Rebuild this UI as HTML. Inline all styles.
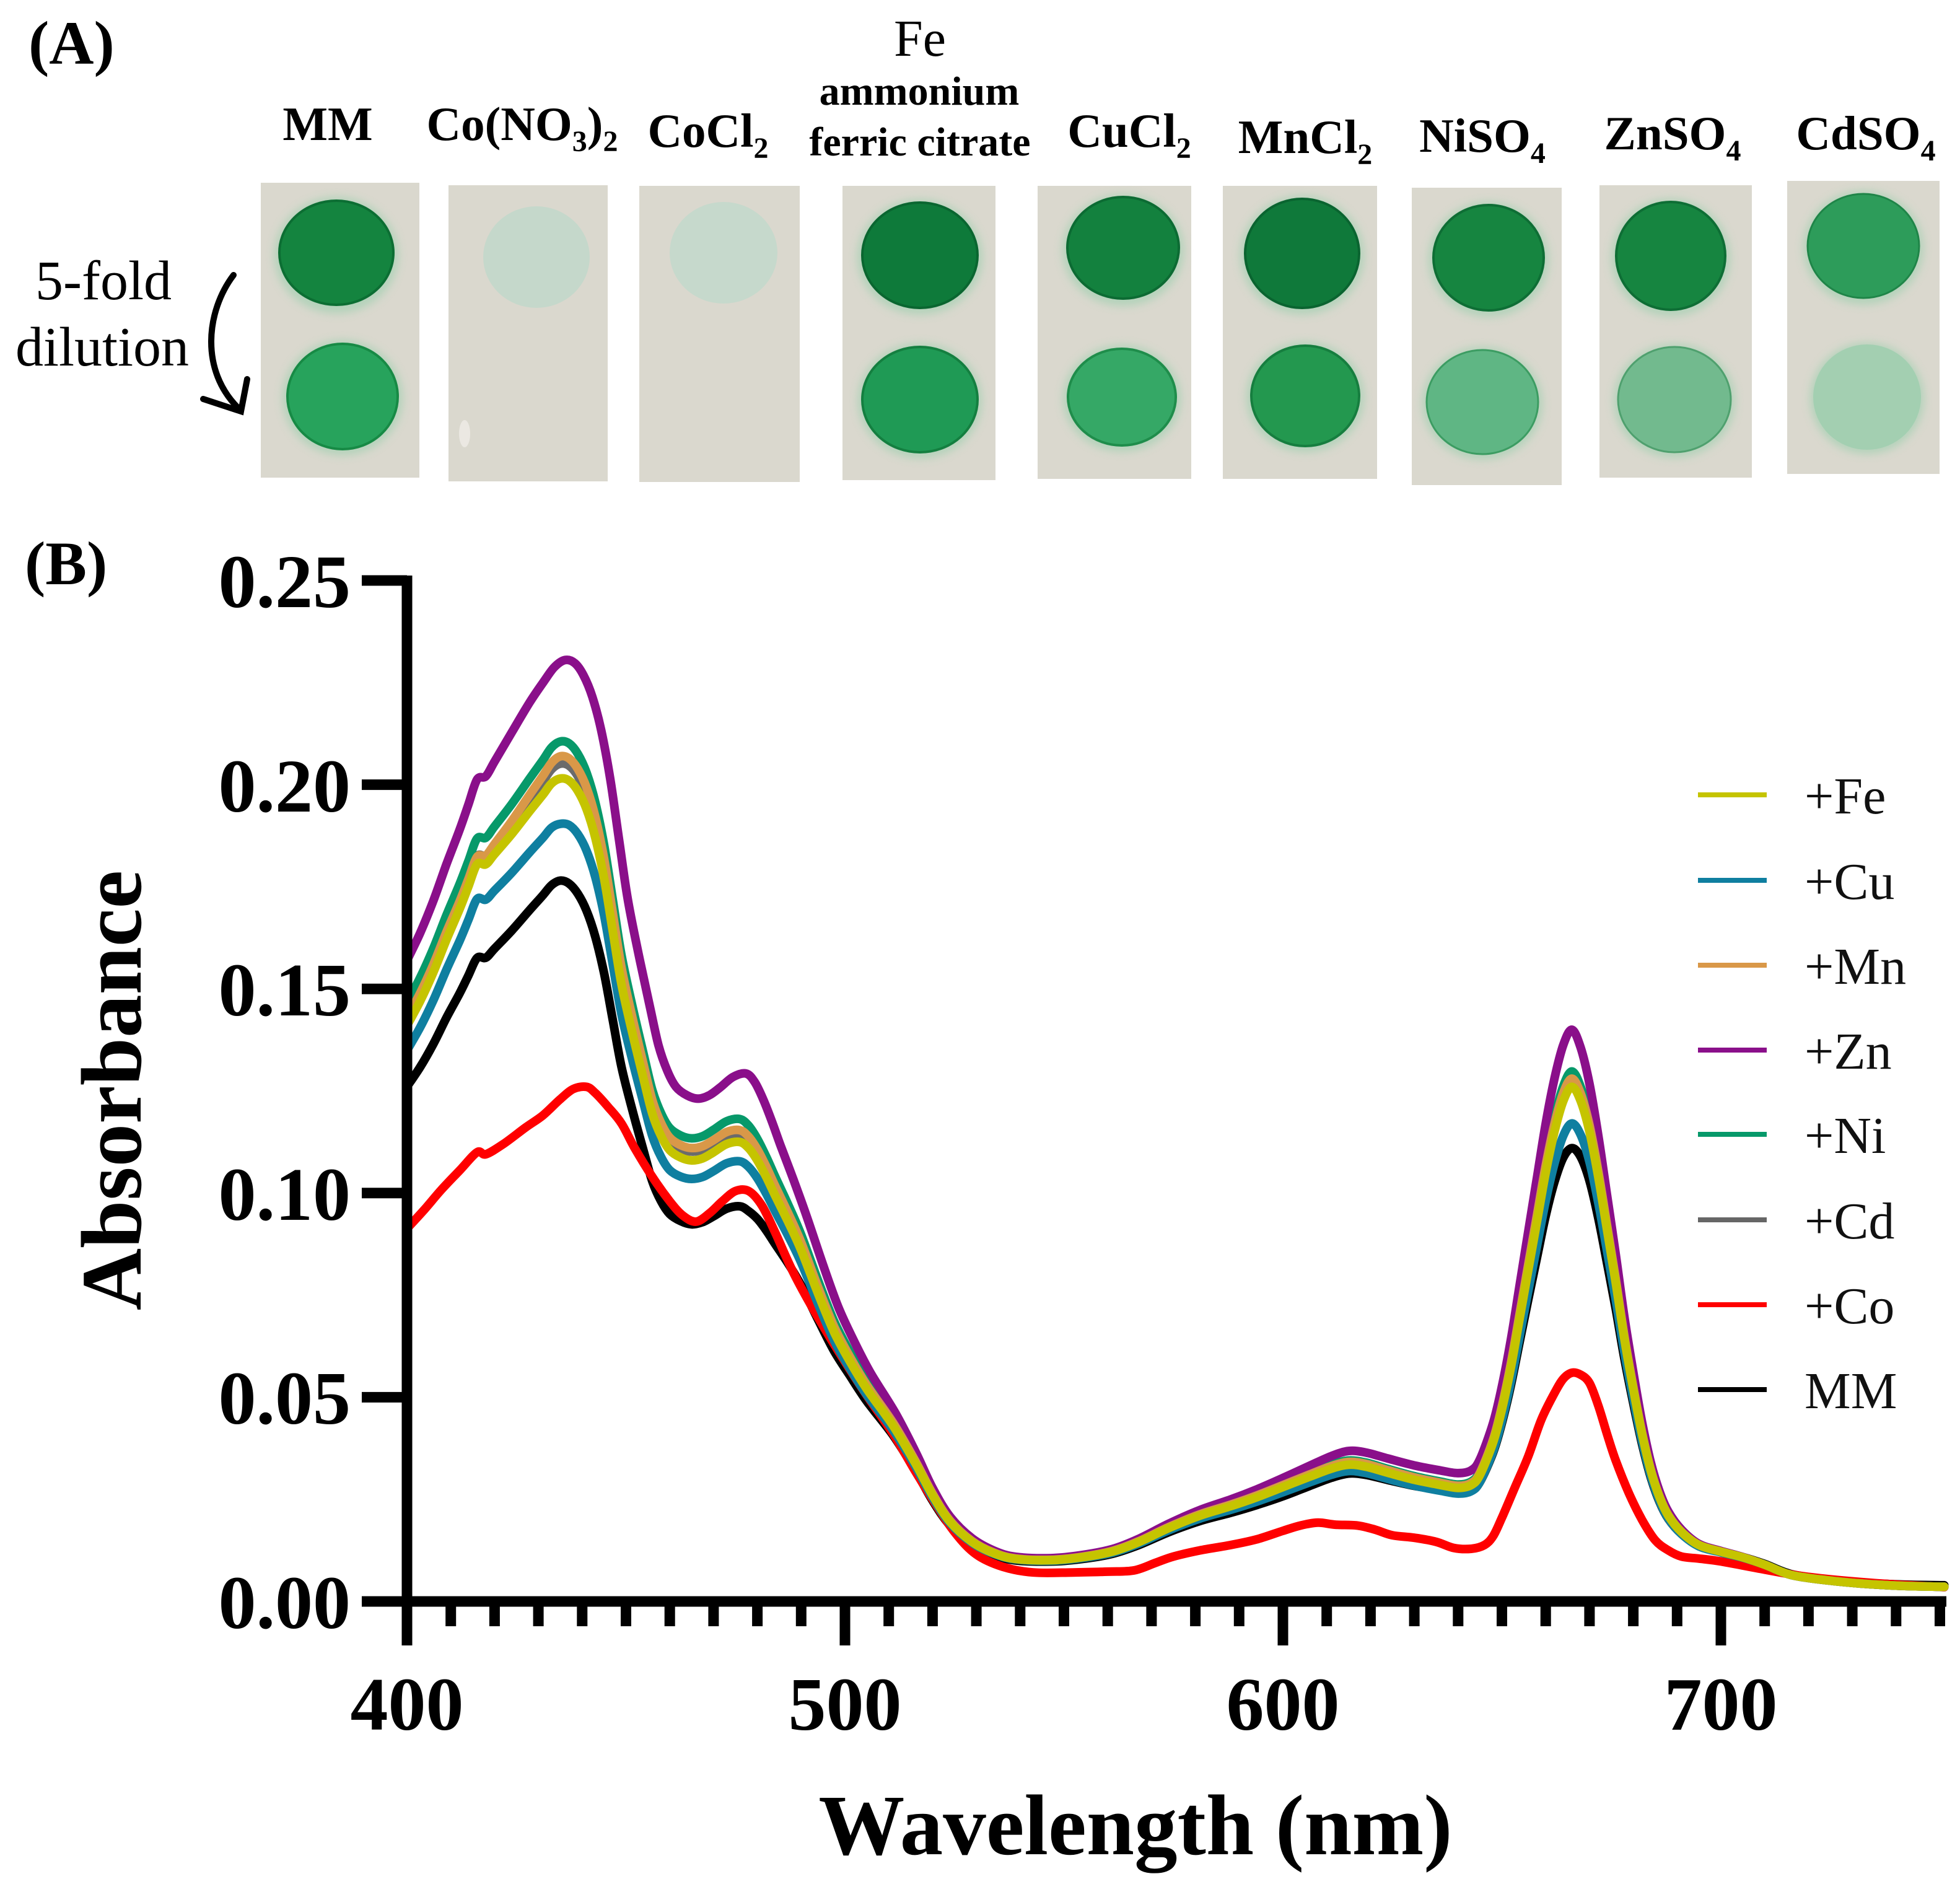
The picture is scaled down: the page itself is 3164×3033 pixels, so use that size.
<!DOCTYPE html>
<html>
<head>
<meta charset="utf-8">
<style>
  html,body{margin:0;padding:0;background:#fff;}
  svg{display:block;}
  text{font-family:"Liberation Serif","DejaVu Serif",serif;}
</style>
</head>
<body>
<svg id="fig" width="3164" height="3033" viewBox="0 0 3164 3033" xmlns="http://www.w3.org/2000/svg">
  <defs>
    <filter id="halo" x="-30%" y="-30%" width="160%" height="160%">
      <feGaussianBlur stdDeviation="7"/>
    </filter>
  </defs>
  <rect x="0" y="0" width="3164" height="3033" fill="#ffffff"/>

  <!-- ===== Panel A ===== -->
  <text x="46" y="103" font-size="100" font-weight="bold">(A)</text>

  <g font-weight="bold" font-size="77" text-anchor="middle" fill="#000">
    <text x="529" y="226">MM</text>
    <text x="843" y="226">Co(NO<tspan font-size="48" dy="18">3</tspan><tspan dy="-18">)</tspan><tspan font-size="48" dy="18">2</tspan></text>
    <text x="1143" y="237">CoCl<tspan font-size="48" dy="18">2</tspan></text>
    <text x="1823" y="237">CuCl<tspan font-size="48" dy="18">2</tspan></text>
    <text x="2107" y="247">MnCl<tspan font-size="48" dy="18">2</tspan></text>
    <text x="2393" y="245">NiSO<tspan font-size="48" dy="18">4</tspan></text>
    <text x="2700" y="241">ZnSO<tspan font-size="48" dy="18">4</tspan></text>
    <text x="3012" y="241">CdSO<tspan font-size="48" dy="18">4</tspan></text>
  </g>
  <text x="1485" y="90" font-size="84" text-anchor="middle">Fe</text>
  <text x="1484" y="169" font-size="66" font-weight="bold" text-anchor="middle">ammonium</text>
  <text x="1485" y="251" font-size="66" font-weight="bold" text-anchor="middle">ferric citrate</text>

  <text x="167" y="483" font-size="90" text-anchor="middle">5-fold</text>
  <text x="165" y="590" font-size="90" text-anchor="middle">dilution</text>
  <path d="M377,444 C333,502 322,598 386,660" fill="none" stroke="#000" stroke-width="10" stroke-linecap="round"/>
  <polyline points="328,644 389,664 399,612" fill="none" stroke="#000" stroke-width="10" stroke-linecap="round" stroke-linejoin="miter"/>

  <g>
    <rect x="421" y="295" width="256" height="476" fill="#dad8ce"/>
    <rect x="724" y="299" width="257" height="478" fill="#dad8ce"/>
    <rect x="1032" y="300" width="259" height="478" fill="#dad8ce"/>
    <rect x="1360" y="300" width="247" height="475" fill="#dad8ce"/>
    <rect x="1675" y="300" width="248" height="473" fill="#dad8ce"/>
    <rect x="1974" y="300" width="249" height="473" fill="#dad8ce"/>
    <rect x="2279" y="303" width="242" height="480" fill="#dad8ce"/>
    <rect x="2582" y="299" width="246" height="472" fill="#dad8ce"/>
    <rect x="2885" y="292" width="246" height="473" fill="#dad8ce"/>
  </g>
  <g filter="url(#halo)" fill="#a9d1b5" opacity="0.8">
    <ellipse cx="543" cy="412" rx="100" ry="94"/>
    <ellipse cx="553" cy="642" rx="97" ry="93"/>
    <ellipse cx="1485" cy="415" rx="101" ry="93"/>
    <ellipse cx="1485" cy="647" rx="100" ry="93"/>
    <ellipse cx="1813" cy="404" rx="98" ry="90"/>
    <ellipse cx="1811" cy="643" rx="95" ry="86"/>
    <ellipse cx="2102" cy="412" rx="100" ry="96"/>
    <ellipse cx="2107" cy="641" rx="95" ry="89"/>
    <ellipse cx="2403" cy="419" rx="97" ry="93"/>
    <ellipse cx="2393" cy="651" rx="97" ry="91"/>
    <ellipse cx="2697" cy="416" rx="96" ry="95"/>
    <ellipse cx="2703" cy="647" rx="98" ry="92"/>
    <ellipse cx="3008" cy="400" rx="97" ry="92"/>
    <ellipse cx="3014" cy="643" rx="92" ry="90"/>
  </g>
  <g>
    <ellipse cx="543" cy="408" rx="92" ry="84" fill="#14843f" stroke="#0c6e33" stroke-width="4"/>
    <ellipse cx="553" cy="640" rx="89" ry="85" fill="#27a35c" stroke="#178a45" stroke-width="4"/>

    <ellipse cx="866" cy="415" rx="86" ry="82" fill="#c5d8cb"/>
    <ellipse cx="750" cy="700" rx="9" ry="22" fill="#ebe8e2"/>

    <ellipse cx="1168" cy="408" rx="87" ry="82" fill="#c6d9cc"/>

    <ellipse cx="1485" cy="412" rx="93" ry="85" fill="#0e7a3a" stroke="#0a6630" stroke-width="4"/>
    <ellipse cx="1485" cy="645" rx="93" ry="85" fill="#1f9a55" stroke="#147f40" stroke-width="4"/>

    <ellipse cx="1813" cy="400" rx="90" ry="82" fill="#13813e" stroke="#0c6b33" stroke-width="4"/>
    <ellipse cx="1811" cy="641" rx="87" ry="78" fill="#35a866" stroke="#1f8d4b" stroke-width="4"/>

    <ellipse cx="2102" cy="409" rx="92" ry="88" fill="#0f793a" stroke="#0a6430" stroke-width="4"/>
    <ellipse cx="2107" cy="639" rx="87" ry="81" fill="#23984f" stroke="#167e3f" stroke-width="4"/>

    <ellipse cx="2403" cy="416" rx="89" ry="85" fill="#168540" stroke="#0e6e35" stroke-width="4"/>
    <ellipse cx="2393" cy="649" rx="90" ry="84" fill="#5fb684" stroke="#3c9c62" stroke-width="3"/>

    <ellipse cx="2697" cy="413" rx="88" ry="87" fill="#168540" stroke="#0e6e35" stroke-width="4"/>
    <ellipse cx="2703" cy="645" rx="91" ry="85" fill="#72ba8e" stroke="#4fa06e" stroke-width="3"/>

    <ellipse cx="3008" cy="397" rx="90" ry="84" fill="#2d9c5a" stroke="#1f8548" stroke-width="3"/>
    <ellipse cx="3014" cy="641" rx="87" ry="85" fill="#a3cfb1"/>
  </g>

  <!-- ===== Panel B ===== -->
  <text x="40" y="943" font-size="100" font-weight="bold">(B)</text>

  <g id="curves" fill="none" stroke-width="14" stroke-linejoin="round" stroke-linecap="round"></g>

  <g stroke="#000" stroke-width="17" stroke-linecap="butt" fill="none">
    <line x1="657" y1="929" x2="657" y2="2656"/>
    <line x1="584" y1="2585" x2="3142" y2="2585"/>
    <line x1="584" y1="937" x2="657" y2="937"/>
    <line x1="584" y1="1266.6" x2="657" y2="1266.6"/>
    <line x1="584" y1="1596.2" x2="657" y2="1596.2"/>
    <line x1="584" y1="1925.8" x2="657" y2="1925.8"/>
    <line x1="584" y1="2255.4" x2="657" y2="2255.4"/>
  </g>
  <g id="xticks" stroke="#000" stroke-width="17" fill="none"></g>

  <g font-size="122" font-weight="bold" text-anchor="end" fill="#000">
    <text x="566" y="980">0.25</text>
    <text x="566" y="1310">0.20</text>
    <text x="566" y="1639">0.15</text>
    <text x="566" y="1969">0.10</text>
    <text x="566" y="2298">0.05</text>
    <text x="566" y="2628">0.00</text>
  </g>
  <g font-size="122" font-weight="bold" text-anchor="middle" fill="#000">
    <text x="657" y="2792">400</text>
    <text x="1364" y="2792">500</text>
    <text x="2071" y="2792">600</text>
    <text x="2778" y="2792">700</text>
  </g>

  <text transform="translate(227,1760) rotate(-90)" font-size="139" font-weight="bold" text-anchor="middle">Absorbance</text>
  <text x="1833" y="2993" font-size="139" font-weight="bold" text-anchor="middle">Wavelength (nm)</text>

  <g stroke-width="8" stroke-linecap="butt">
    <line x1="2741" y1="1283" x2="2852" y2="1283" stroke="#c5c400"/>
    <line x1="2741" y1="1421" x2="2852" y2="1421" stroke="#0f7fa0"/>
    <line x1="2741" y1="1558" x2="2852" y2="1558" stroke="#d99848"/>
    <line x1="2741" y1="1695" x2="2852" y2="1695" stroke="#8a0f8a"/>
    <line x1="2741" y1="1831" x2="2852" y2="1831" stroke="#07996a"/>
    <line x1="2741" y1="1969" x2="2852" y2="1969" stroke="#666666"/>
    <line x1="2741" y1="2106" x2="2852" y2="2106" stroke="#ff0000"/>
    <line x1="2741" y1="2243" x2="2852" y2="2243" stroke="#000000"/>
  </g>
  <g font-size="84" fill="#111">
    <text x="2913" y="1313">+Fe</text>
    <text x="2913" y="1451">+Cu</text>
    <text x="2913" y="1588">+Mn</text>
    <text x="2913" y="1725">+Zn</text>
    <text x="2913" y="1861">+Ni</text>
    <text x="2913" y="1999">+Cd</text>
    <text x="2913" y="2136">+Co</text>
    <text x="2913" y="2273">MM</text>
  </g>
</svg>

<script>
(function(){
  var NS = "http://www.w3.org/2000/svg";
  function X(nm){ return 657 + (nm-400)*7.07; }
  function Y(a){ return 2585 - a*6592; }
  function lerp(arr, x){
    if (x <= arr[0][0]) return arr[0][1];
    for (var i=0;i<arr.length-1;i++){
      var a=arr[i], b=arr[i+1];
      if (x>=a[0] && x<=b[0]){
        var t=(x-a[0])/(b[0]-a[0]);
        return a[1]+(b[1]-a[1])*t;
      }
    }
    return arr[arr.length-1][1];
  }
  function pathFrom(pts){
    var d="M"+pts[0][0].toFixed(1)+","+pts[0][1].toFixed(1);
    for (var i=0;i<pts.length-1;i++){
      var p0=pts[i-1]||pts[i], p1=pts[i], p2=pts[i+1], p3=pts[i+2]||pts[i+1];
      var c1=[p1[0]+(p2[0]-p0[0])/6, p1[1]+(p2[1]-p0[1])/6];
      var c2=[p2[0]-(p3[0]-p1[0])/6, p2[1]-(p3[1]-p1[1])/6];
      d+="C"+c1[0].toFixed(1)+","+c1[1].toFixed(1)+" "+c2[0].toFixed(1)+","+c2[1].toFixed(1)+" "+p2[0].toFixed(1)+","+p2[1].toFixed(1);
    }
    return d;
  }

  var fe=[[400,.141],[403,.147],[406,.154],[409,.162],[412,.1695],[414,.175],[416,.1805],[418,.1805],[420,.183],[424,.188],[428,.1935],[431,.1975],[433,.2003],[435,.2015],[437,.201],[439,.1985],[441,.194],[443,.187],[445,.177],[447,.164],[449,.151],[451.5,.139],[454,.128],[456,.1195],[458,.114],[460,.1105],[462.5,.1087],[465,.108],[467.5,.1085],[470,.110],[473,.112],[476,.1125],[478,.111],[480,.108],[482,.104],[484,.0995],[487,.093],[490,.086],[494,.075],[497.5,.066],[501,.059],[505,.052],[511,.043],[516,.034],[520,.026],[524,.0195],[529,.0146],[534,.0118],[539,.0104],[547,.0101],[554,.0108],[561,.0122],[567,.0145],[574,.018],[581,.021],[588,.0233],[594,.0255],[600,.028],[606,.0305],[611,.0325],[615,.0335],[619,.033],[624,.0315],[630,.0298],[636,.0285],[640,.0278],[643,.0285],[645,.031],[648,.039],[650,.047],[652,.057],[654,.069],[656,.081],[658,.093],[660,.105],[662,.115],[664,.1225],[666,.126],[668,.1225],[670,.115],[672,.104],[674,.091],[676,.078],[678,.064],[680,.052],[682,.041],[684,.032],[686,.0255],[688,.021],[691,.017],[695,.0138],[700,.0122],[705,.0108],[710,.009],[716,.0065],[724,.0052],[733,.0043],[742,.0038],[751,.0036]];

  var co=[[400,.0913],[404,.096],[408,.101],[412,.1055],[416,.110],[418,.1095],[422,.112],[427,.116],[431,.119],[435,.123],[438,.1255],[441,.126],[443,.1245],[446,.121],[449,.117],[452,.111],[456,.104],[460,.098],[463,.0945],[466,.093],[469,.095],[472,.098],[475,.1005],[478,.1005],[481,.097],[484,.0905],[488,.081],[492,.073],[497.5,.063],[504,.052],[511,.041],[516,.032],[520,.025],[525,.017],[530,.0115],[536,.0085],[543,.0071],[552,.0071],[560,.0073],[566,.0076],[571,.0095],[575,.011],[581,.0125],[588,.0138],[594,.0152],[600,.0173],[604,.0186],[608,.0193],[612,.0188],[617,.0186],[621,.0176],[625,.0162],[630,.0156],[635,.0146],[639,.0131],[643,.0129],[646,.0138],[648,.016],[650,.0205],[653,.028],[656,.0355],[659,.0445],[662,.051],[664,.0545],[666,.056],[668,.0555],[670,.0535],[672,.048],[674,.041],[676,.0345],[679,.0265],[682,.020],[685,.015],[688,.0125],[691,.011],[695,.0105],[700,.0098],[710,.0078],[720,.006],[735,.0045],[751,.0035]];

  var curves=[
    {c:"#000000", f:[[400,.894],[416,.873],[435,.876],[465,.855],[478,.861],[490,.9],[500,.94],[520,.95],[545,.97],[600,.92],[640,.96],[666,.881],[690,.97],[710,1.02],[751,1.1]]},
    {c:"#ff0000", base:co},
    {c:"#6b6b6b", f:[[400,1.005],[435,1.018],[465,1.02],[540,1.0],[666,1.005],[751,1]]},
    {c:"#07996a", f:[[400,1.04],[416,1.035],[435,1.045],[465,1.05],[477,1.05],[500,1.04],[540,1.02],[600,1.03],[640,1.03],[666,1.03],[700,1.0],[751,1]]},
    {c:"#8a0f8a", f:[[400,1.113],[416,1.115],[425,1.135],[435,1.144],[445,1.14],[465,1.14],[477,1.15],[490,1.10],[505,1.08],[520,1.07],[540,1.05],[560,1.05],[600,1.08],[615,1.10],[640,1.13],[650,1.12],[666,1.111],[680,1.08],[695,1.02],[710,1.0],[751,1.0]],
      s:[[400,0],[430,0],[436,1.3],[470,1.5],[500,1],[520,0],[751,0]]},
    {c:"#d99848", f:[[400,1.014],[416,1.01],[435,1.027],[465,1.028],[480,1.025],[540,1.01],[620,1.02],[666,1.016],[700,1],[751,1]]},
    {c:"#0f7fa0", f:[[400,.957],[416,.953],[435,.945],[465,.958],[477,.958],[500,.97],[540,.99],[600,.955],[640,.95],[666,.929],[690,.97],[710,1],[751,1]]},
    {c:"#c5c400", f:[[400,1],[751,1]]}
  ];

  var g=document.getElementById("curves");
  curves.forEach(function(cv){
    var base=cv.base||fe;
    var pts=base.map(function(p){
      var nm=p[0], a=p[1];
      var fac=cv.f?lerp(cv.f,nm):1;
      var sh=cv.s?lerp(cv.s,nm):0;
      var x=nm+sh; if (x<400) x=400;
      return [X(x), Y(a*fac)];
    });
    var path=document.createElementNS(NS,"path");
    path.setAttribute("d",pathFrom(pts));
    path.setAttribute("stroke",cv.c);
    g.appendChild(path);
  });

  var xt=document.getElementById("xticks");
  for (var nm=410; nm<=750; nm+=10){
    var major=(nm%100===0);
    var l=document.createElementNS(NS,"line");
    var x=X(nm);
    l.setAttribute("x1",x); l.setAttribute("x2",x);
    l.setAttribute("y1",2585); l.setAttribute("y2",major?2656:2625);
    xt.appendChild(l);
  }
})();
</script>
</body>
</html>
